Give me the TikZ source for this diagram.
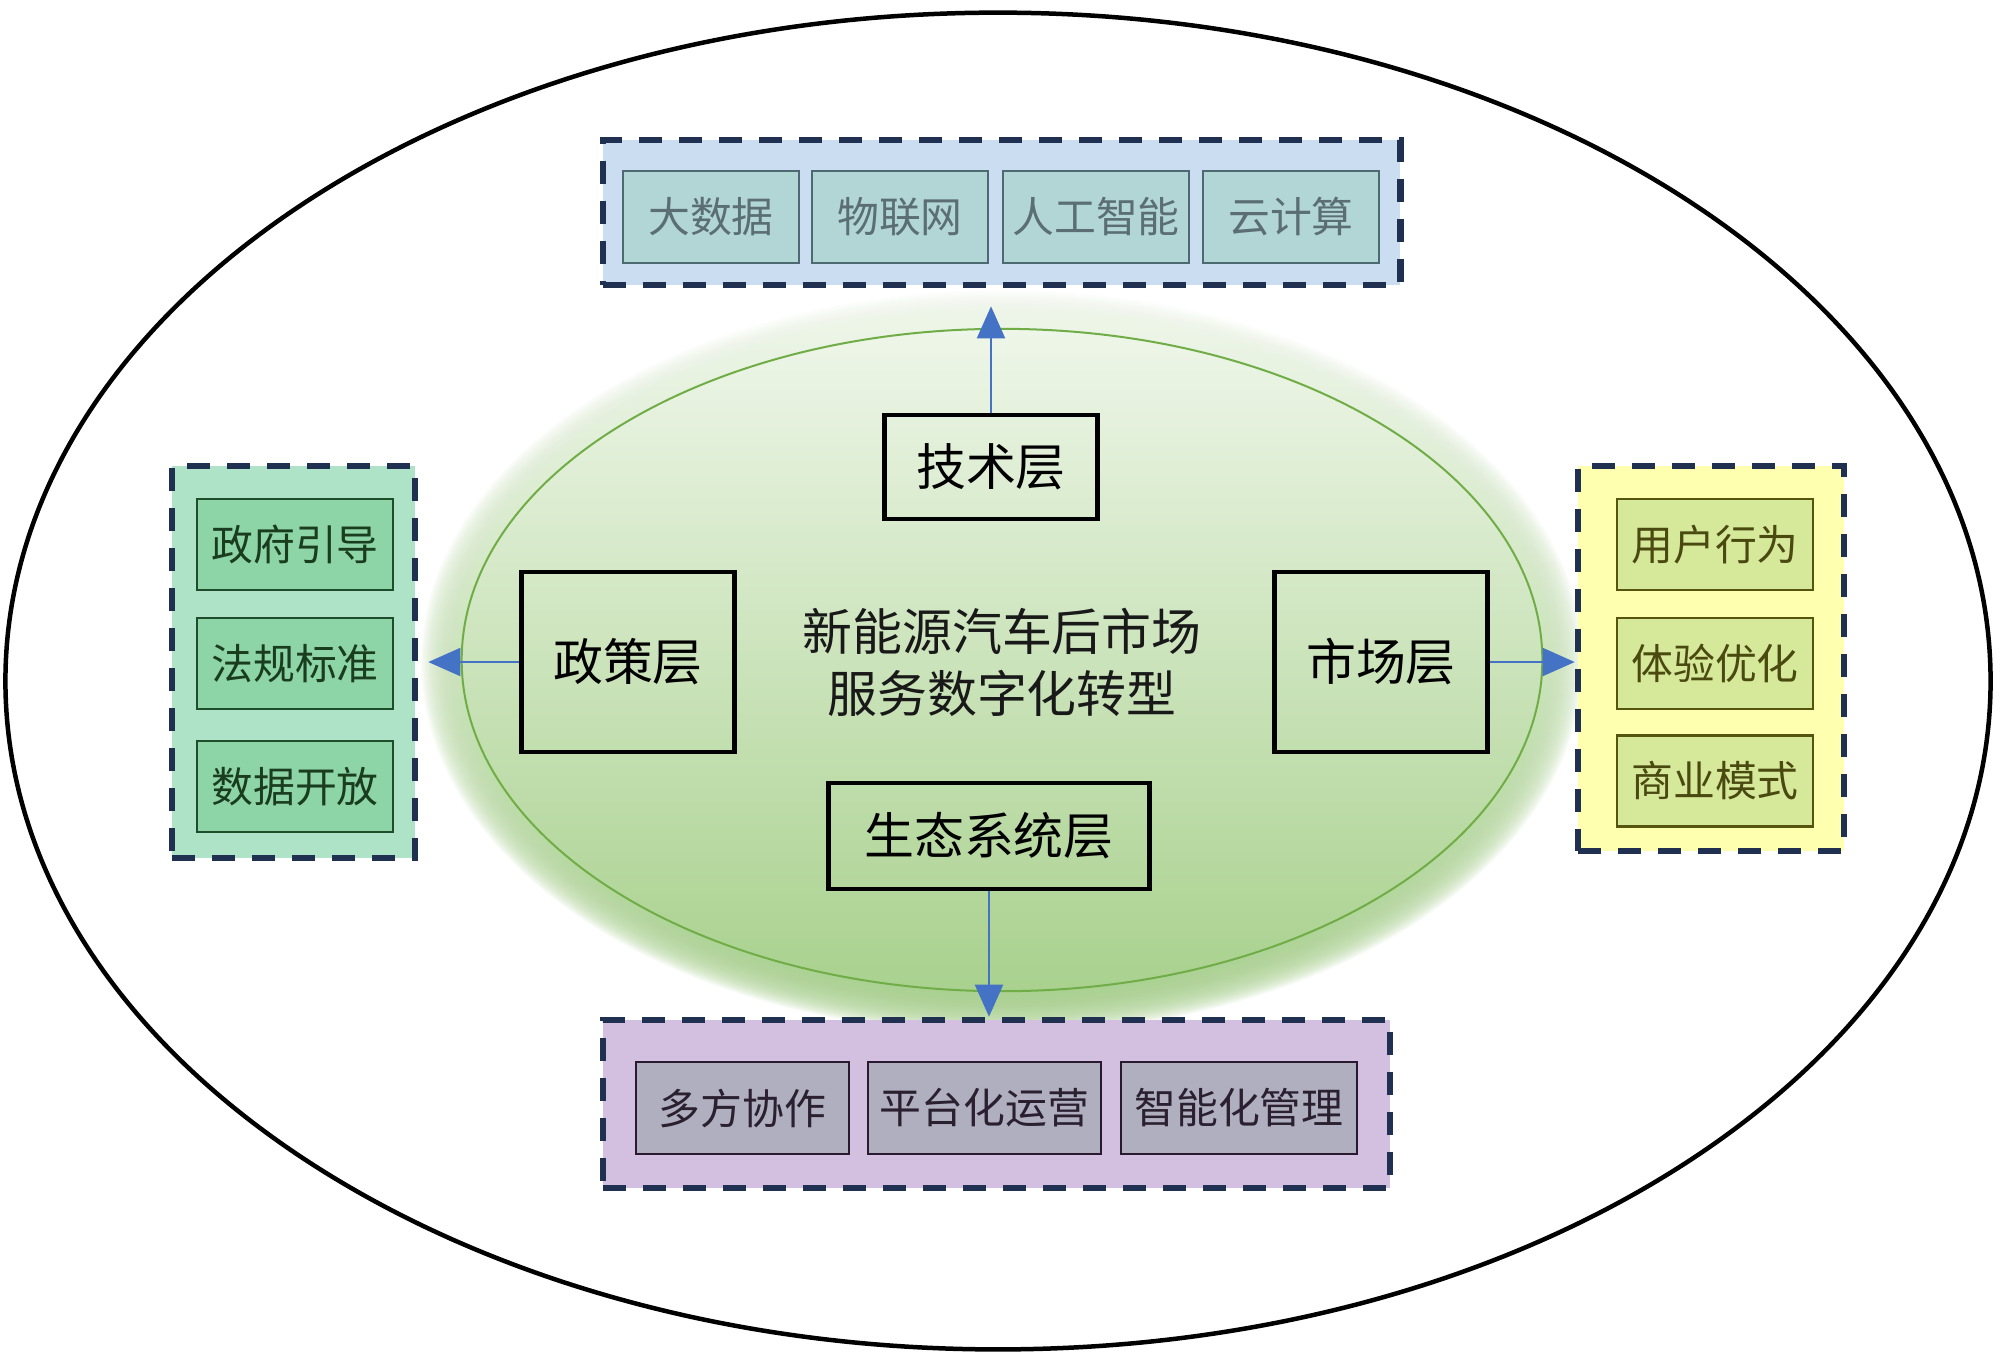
\documentclass[tikz,border=0pt]{standalone}
\usepackage{fontspec}
\newfontfamily\cjk{Noto Sans CJK SC}
\usetikzlibrary{arrows.meta,calc}
\definecolor{navy}{HTML}{1F3050}
\definecolor{arrowblue}{HTML}{4472C4}
\definecolor{glowgreen}{HTML}{A9D18E}
\definecolor{ellline}{HTML}{70AD47}
\definecolor{techbg}{HTML}{CBDDF0}
\definecolor{techfill}{HTML}{B2D6D6}
\definecolor{techline}{HTML}{4D6A73}
\definecolor{techtext}{HTML}{5A6E74}
\definecolor{polbg}{HTML}{AEE3C8}
\definecolor{polfill}{HTML}{8DD5A6}
\definecolor{polline}{HTML}{1E4D2B}
\definecolor{poltext}{HTML}{1A3D1F}
\definecolor{mktbg}{HTML}{FFFFB0}
\definecolor{mktfill}{HTML}{D6E89A}
\definecolor{mktline}{HTML}{55550F}
\definecolor{mkttext}{HTML}{4A4A10}
\definecolor{ecobg}{HTML}{D3C0E0}
\definecolor{ecofill}{HTML}{AFAFBF}
\definecolor{ecoline}{HTML}{2A1A30}
\definecolor{ecotext}{HTML}{2A2030}
\begin{document}
\begin{tikzpicture}[x=0.01cm,y=-0.01cm,
  layer/.style={draw=black, line width=0.045cm, inner sep=0pt, font=\cjk\fontsize{14.2}{17}\selectfont},
  grp/.style={line width=0.065cm, draw=navy, dash pattern=on 0.23cm off 0.17cm, inner sep=0pt},
  item/.style={line width=0.025cm, inner sep=0pt, font=\cjk\fontsize{11.9}{14}\selectfont},
  tech/.style={item, draw=techline, fill=techfill, text=techtext, minimum height=0.92cm},
  pol/.style={item, draw=polline, fill=polfill, text=poltext, minimum width=1.96cm, minimum height=0.91cm},
  mkt/.style={item, draw=mktline, fill=mktfill, text=mkttext, minimum width=1.96cm, minimum height=0.91cm},
  eco/.style={item, draw=ecoline, fill=ecofill, text=ecotext, minimum height=0.92cm},
  arr/.style={draw=arrowblue, line width=0.02cm, -{Triangle[length=0.32cm,width=0.28cm]}},
  ellshade/.style={top color=white!80!glowgreen, middle color=white!45!glowgreen, bottom color=glowgreen}
]
\useasboundingbox (0,0) rectangle (2000,1365);
\fill[white] (0,0) rectangle (2000,1365);
% outer ellipse
\draw[line width=0.045cm] (998,681) ellipse [x radius=9.92cm, y radius=6.68cm];
% glow
\foreach \i in {1,...,30}{
  \shade[ellshade, opacity=0.09] (1002,662) ellipse [x radius={5.40cm+(31-\i)*0.0135cm}, y radius={3.31cm+(31-\i)*0.0135cm}];
}
\shade[ellshade] (1002,660) ellipse [x radius=5.40cm, y radius=3.31cm];
\draw[ellline, line width=0.02cm] (1002,660) ellipse [x radius=5.40cm, y radius=3.31cm];
% center text
\node[font=\cjk\fontsize{14.2}{17.6}\selectfont, align=center, text=black!90] (center) at (1002,662) {新能源汽车后市场\\服务数字化转型};
% layers
\node[layer, minimum width=2.13cm, minimum height=1.04cm] (techL) at (991,467) {技术层};
\node[layer, minimum width=2.13cm, minimum height=1.80cm] (polL) at (628,662) {政策层};
\node[layer, minimum width=2.13cm, minimum height=1.80cm] (mktL) at (1381,662) {市场层};
\node[layer, minimum width=3.21cm, minimum height=1.06cm] (ecoL) at (989,836) {生态系统层};
% groups
\node[grp, fill=techbg, minimum width=7.97cm, minimum height=1.45cm] (techG) at (1001.5,212.5) {};
\node[grp, fill=polbg, minimum width=2.43cm, minimum height=3.92cm] (polG) at (293.5,662) {};
\node[grp, fill=mktbg, minimum width=2.66cm, minimum height=3.85cm] (mktG) at (1711,658.5) {};
\node[grp, fill=ecobg, minimum width=7.87cm, minimum height=1.68cm] (ecoG) at (996.5,1104) {};
% tech items
\node[tech, minimum width=1.76cm] (t1) at (711,217) {大数据};
\node[tech, minimum width=1.76cm] (t2) at (900,217) {物联网};
\node[tech, minimum width=1.86cm] (t3) at (1096,217) {人工智能};
\node[tech, minimum width=1.76cm] (t4) at (1291,217) {云计算};
% policy items
\node[pol] (p1) at (295,544.5) {政府引导};
\node[pol] (p2) at (295,663.5) {法规标准};
\node[pol] (p3) at (295,786.5) {数据开放};
% market items
\node[mkt] (m1) at (1715,544.5) {用户行为};
\node[mkt] (m2) at (1715,663.5) {体验优化};
\node[mkt] (m3) at (1715,781) {商业模式};
% eco items
\node[eco, minimum width=2.13cm] (e1) at (742.5,1108) {多方协作};
\node[eco, minimum width=2.33cm] (e2) at (984.5,1108) {平台化运营};
\node[eco, minimum width=2.36cm] (e3) at (1239,1108) {智能化管理};
% arrows
\draw[arr, shorten >=0.18cm] (techL.north) -- (techL.north |- techG.south);
\draw[arr, shorten >=0.1cm] (polL.west) -- (polL.west -| polG.east);
\draw[arr] (mktL.east) -- (mktL.east -| mktG.west);
\draw[arr] (ecoL.south) -- (ecoL.south |- ecoG.north);
\end{tikzpicture}
\end{document}
